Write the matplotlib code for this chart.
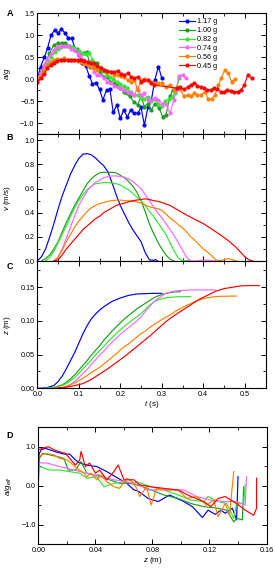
import matplotlib
matplotlib.use('Agg')
import matplotlib.pyplot as plt
from matplotlib.ticker import MultipleLocator

plt.rcParams['font.family'] = ['Liberation Sans', 'DejaVu Sans']
plt.rcParams['mathtext.fontset'] = 'custom'
plt.rcParams['mathtext.rm'] = 'Liberation Sans'
plt.rcParams['mathtext.it'] = 'Liberation Sans:italic'
plt.rcParams['axes.linewidth'] = 0.8

############################  DATA  ############################
labels = ['1.17 g', '1.00 g', '0.82 g', '0.74 g', '0.56 g', '0.45 g']
colors = ['#0000ff', '#1a9e1a', '#33e633', '#ff66ff', '#ff8000', '#ff0000']

# panel A : a/g vs t
ta_117 = [0, .008, .017, .025, .033, .042, .050, .058, .067, .075, .083, .092, .100, .108, .117, .125, .133, .142, .150,
          .158, .167, .175, .183, .192, .200, .208, .217, .225, .233, .242, .250, .258, .267, .275, .283, .292, .300]
a_117 = [0, .29, .50, .72, 1.00, 1.12, 1.05, 1.14, 1.05, .93, .93, .67, .55, .38, .30, .08, -.10, -.08, -.23,
         -.47, -.24, -.23, -.75, -.58, -.89, -.70, -.85, -.70, -.77, -.77, -.64, -1.04, -.62, -.47, -.02, .29, .02]
ta_100 = [0, .010, .019, .029, .040, .051, .059, .067, .077, .086, .095, .103, .113, .119, .128, .137, .144, .152, .160,
          .168, .176, .184, .192, .200, .208, .216, .224, .232, .242, .250, .258, .266, .274, .284, .294, .302, .310,
          .320, .326, .334]
a_100 = [-.02, .17, .33, .59, .78, .82, .82, .82, .76, .74, .68, .55, .59, .63, .29, .33, .36, .17, .06,
         .06, -.05, -.09, -.13, -.20, -.28, -.32, -.39, -.51, -.58, -.39, -.62, -.55, -.70, -.55, -.66, -.85, -.81,
         -.39, -.24, -.23]
ta_082 = [0, .008, .017, .025, .033, .042, .050, .058, .067, .075, .083, .092, .100, .108, .117, .125, .133, .142, .150,
          .158, .167, .175, .183, .192, .200, .208, .217, .225, .233, .242, .250, .258, .267, .275, .283, .292, .300,
          .308, .317, .325, .333, .342]
a_082 = [-.05, .05, .20, .35, .50, .62, .70, .74, .76, .75, .74, .70, .65, .60, .58, .60, .45, .30, .28,
         .20, .10, .05, 0, -.05, -.10, -.15, -.20, -.28, -.35, -.35, -.42, -.45, -.40, -.50, -.45, -.55, -.60,
         -.50, -.45, -.40, -.30, .02]
ta_074 = [0, .008, .016, .024, .032, .040, .048, .056, .064, .073, .081, .089, .097, .103, .113, .121, .129, .136, .144,
          .152, .161, .169, .178, .186, .194, .202, .210, .218, .226, .234, .241, .250, .258, .266, .274, .283, .292,
          .301, .309, .320, .329, .335, .341, .350, .358]
a_074 = [.02, .14, .33, .45, .57, .67, .74, .76, .76, .75, .70, .67, .59, .52, .44, .40, .33, .17, .10,
         .10, .02, -.05, -.09, -.15, -.18, -.20, -.24, -.28, -.32, -.36, -.20, -.36, -.32, -.47, -.47, -.43, -.47,
         -.55, -.55, -.77, -.47, -.24, .08, .10, .02]
ta_056 = [0, .008, .016, .024, .032, .040, .048, .056, .065, .073, .081, .089, .097, .105, .113, .121, .129, .137, .145,
          .153, .161, .169, .178, .186, .194, .202, .210, .218, .226, .234, .242, .250, .258, .266, .274, .283, .292,
          .301, .309, .320, .329, .337, .345, .353, .362, .370, .378, .386, .394, .404, .412, .420, .428, .436, .443,
          .452, .460, .468, .476]
a_056 = [0, .08, .20, .31, .40, .44, .46, .45, .48, .44, .44, .44, .42, .40, .35, .33, .29, .25, .21,
         .25, .21, .17, .17, .10, .10, .08, .06, -.02, -.05, -.02, -.24, -.02, 0, -.02, -.05, -.09, -.08,
         -.09, -.17, -.13, -.24, -.17, -.23, -.39, -.36, -.39, -.32, -.36, -.36, -.28, -.45, -.45, -.36, -.13, .02,
         .21, .14, -.05, 0]
ta_045 = [0, .008, .016, .024, .032, .040, .048, .056, .065, .073, .081, .089, .097, .105, .113, .121, .129, .137, .145,
          .153, .161, .169, .178, .186, .194, .202, .210, .218, .226, .234, .242, .250, .258, .266, .274, .281,
          .337, .345, .353, .362, .370, .378, .386, .394, .402, .410, .418, .426, .434, .442, .450, .458, .466, .475,
          .483, .491, .499, .507, .517]
a_045 = [-.05, .02, .12, .25, .33, .38, .42, .44, .44, .44, .44, .44, .44, .45, .42, .40, .36, .36, .30,
         .25, .21, .20, .17, .17, .20, .12, .10, .14, .06, .02, .06, -.05, -.02, -.02, -.08, -.13,
         -.20, -.18, -.23, -.18, -.13, -.08, -.15, -.18, -.20, -.24, -.24, -.20, -.23, -.28, -.28, -.24, -.26, -.28,
         -.28, -.24, -.13, .10, .02]

# panel B : v (m/s) vs t
tv_117 = [0, .01, .02, .03, .04, .05, .06, .07, .08, .09, .10, .11, .12, .13, .14, .15, .16, .17, .18, .19, .20,
          .21, .22, .23, .24, .25, .26, .27, .28, .285, .29]
v_117 = [0, .035, .10, .20, .31, .43, .54, .63, .72, .79, .85, .885, .89, .88, .855, .82, .79, .74, .65, .55, .46,
         .39, .32, .26, .21, .16, .07, .01, .005, .012, 0]
tv_100 = [.01, .02, .03, .04, .05, .06, .07, .08, .09, .10, .11, .12, .13, .14, .15, .16, .17, .18, .19, .20, .21,
          .22, .23, .24, .25, .26, .27, .28, .29, .30, .31, .32, .33]
v_100 = [0, .02, .05, .10, .16, .24, .32, .39, .46, .52, .58, .64, .68, .71, .73, .735, .735, .735, .73, .71, .69,
         .66, .62, .57, .50, .41, .31, .23, .16, .10, .05, .015, 0]
tv_082 = [.02, .03, .04, .05, .06, .07, .08, .09, .10, .11, .12, .13, .14, .15, .16, .17, .18, .19, .20, .21, .22,
          .23, .24, .25, .26, .27, .28, .29, .30, .31, .32, .33, .34, .35, .36, .37]
v_082 = [0, .03, .08, .15, .22, .29, .37, .44, .50, .55, .59, .62, .64, .645, .65, .65, .645, .64, .63, .61, .59,
         .56, .53, .50, .46, .41, .37, .32, .27, .22, .15, .08, .025, 0, .005, 0]
tv_074 = [.04, .05, .06, .07, .08, .09, .10, .11, .12, .13, .14, .15, .16, .17, .18, .19, .20, .21, .22, .23, .24,
          .25, .26, .27, .28, .29, .30, .31, .32, .33, .34, .35, .36, .37, .38, .39, .41, .42, .43]
v_074 = [0, .03, .10, .19, .28, .37, .46, .52, .58, .62, .65, .67, .69, .70, .705, .705, .70, .695, .68, .66, .63,
         .60, .55, .50, .45, .40, .36, .31, .26, .21, .15, .09, .03, 0, 0, .005, .008, .003, 0]
tv_056 = [.04, .05, .06, .07, .08, .09, .10, .11, .12, .13, .14, .15, .16, .17, .18, .19, .20, .21, .22, .23, .24,
          .25, .26, .27, .28, .29, .30, .31, .32, .33, .34, .35, .36, .37, .38, .39, .40, .41, .42, .43, .44, .45,
          .46, .47, .48]
v_056 = [0, .03, .09, .16, .22, .28, .33, .37, .41, .44, .46, .475, .485, .495, .50, .505, .505, .50, .50, .495, .49,
         .48, .465, .45, .44, .435, .42, .39, .355, .33, .30, .275, .24, .20, .17, .135, .10, .075, .045, .01, 0, .012,
         .02, .01, 0]
tv_045 = [.04, .05, .06, .07, .08, .09, .10, .11, .12, .13, .14, .15, .16, .17, .18, .19, .20, .21, .22, .23, .24,
          .25, .26, .27, .28, .29, .30, .32, .34, .36, .38, .40, .42, .44, .46, .48, .50, .51, .52]
v_045 = [0, .01, .05, .10, .14, .18, .22, .26, .29, .32, .35, .37, .40, .42, .44, .46, .47, .48, .49, .50, .505,
         .51, .515, .51, .50, .495, .485, .46, .42, .38, .345, .31, .265, .22, .17, .11, .035, .01, 0]

# panel C : z (m) vs t
tz_117 = [0, .02, .04, .05, .06, .07, .08, .09, .10, .11, .12, .13, .14, .15, .16, .18, .20, .22, .24, .26, .28, .30]
z_117 = [0, .0005, .004, .010, .018, .029, .041, .053, .067, .081, .093, .103, .110, .116, .121, .129, .134, .138,
         .140, .1405, .141, .141]
tz_100 = [.02, .04, .06, .07, .08, .09, .10, .11, .12, .13, .14, .15, .16, .17, .18, .19, .20, .21, .22, .23, .24,
          .25, .26, .27, .28, .29, .30, .31, .32, .33, .345]
z_100 = [0, .001, .005, .009, .014, .020, .027, .034, .041, .049, .056, .063, .071, .078, .085, .091, .097, .103, .108,
         .113, .118, .122, .126, .130, .134, .137, .139, .141, .142, .143, .1435]
tz_082 = [.02, .04, .06, .07, .08, .09, .10, .11, .12, .13, .14, .15, .16, .17, .18, .19, .20, .21, .22, .23, .24,
          .25, .26, .27, .28, .29, .30, .31, .32, .34, .37]
z_082 = [0, .001, .004, .007, .011, .016, .022, .029, .035, .042, .049, .056, .062, .069, .075, .081, .087, .092, .097,
         .102, .106, .111, .117, .123, .128, .131, .133, .1345, .135, .136, .136]
tz_074 = [.04, .06, .07, .08, .09, .10, .11, .12, .13, .14, .15, .16, .17, .18, .19, .20, .21, .22, .23, .24, .25,
          .26, .27, .28, .29, .30, .31, .32, .34, .37, .43]
z_074 = [0, .001, .003, .006, .010, .016, .022, .028, .035, .042, .049, .055, .062, .068, .074, .080, .085, .090, .095,
         .100, .106, .114, .121, .128, .133, .137, .141, .143, .145, .146, .146]
tz_056 = [.04, .06, .07, .08, .09, .10, .11, .12, .13, .14, .15, .16, .17, .18, .19, .20, .21, .22, .23, .24, .25,
          .26, .27, .28, .29, .30, .32, .34, .36, .38, .40, .42, .44, .48]
z_056 = [0, .001, .003, .005, .008, .011, .015, .019, .023, .027, .031, .036, .041, .046, .051, .057, .062, .066, .071,
         .076, .081, .085, .090, .094, .098, .102, .109, .117, .123, .129, .133, .1355, .1365, .137]
tz_045 = [.04, .07, .09, .11, .13, .15, .17, .19, .21, .23, .25, .27, .29, .31, .33, .35, .37, .39, .41, .43, .45,
          .47, .49, .51, .535]
z_045 = [0, .0015, .004, .007, .013, .021, .029, .038, .047, .057, .067, .077, .088, .099, .108, .116, .124, .132, .138,
         .144, .148, .150, .152, .1525, .1525]

# panel D : a/g_eff vs z
zd_117 = [0, .0007, .002, .005, .008, .013, .018, .022, .026, .029, .034, .041, .048, .055, .062, .067, .070, .077,
          .084, .092, .102, .108, .115, .119, .124, .128, .131, .136, .139, .140]
ad_117 = [0, .83, .92, .96, .92, .86, .81, .81, .66, .58, .53, .49, .36, .21, .06, -.11, -.14, -.33,
          -.41, -.24, -.41, -.54, -.82, -.63, -.74, -.63, -.71, -.58, -.88, .23]
zd_100 = [0, .003, .008, .013, .018, .021, .026, .030, .034, .039, .043, .050, .057, .064, .071, .079, .088, .098,
          .107, .116, .126, .132, .137, .139, .143, .144]
ad_100 = [.65, .83, .79, .75, .70, .40, .40, .62, .32, .27, .27, .15, .06, .06, 0, -.11, -.24, -.33,
          -.46, -.54, -.58, -.63, -.93, -.84, -.88, -.03]
zd_082 = [0, .008, .015, .022, .029, .034, .041, .046, .053, .060, .067, .069, .079, .088, .098, .107, .116, .119,
          .126, .132, .137, .139, .144, .145]
ad_082 = [.5, .40, .40, .36, .32, .19, .23, -.03, .06, .10, .06, .10, -.03, -.11, -.24, -.37, -.41, -.28,
          -.41, -.46, -.84, -.46, -.46, .02]
zd_074 = [0, .006, .015, .025, .034, .043, .053, .062, .071, .076, .088, .102, .111, .121, .130, .139, .145, .146]
ad_074 = [.59, .58, .49, .40, .32, .23, .15, .10, .02, -.11, -.11, -.11, -.28, -.37, -.41, -.41, -.50, .23]
zd_056 = [0, .005, .011, .015, .020, .023, .027, .032, .034, .037, .041, .044, .048, .053, .057, .062, .066, .069,
          .071, .076, .079, .083, .088, .098, .104, .111, .118, .123, .126, .131, .134, .137]
ad_056 = [.75, .83, .79, .70, .66, .58, .45, .32, .23, .32, .15, .27, .10, -.03, -.07, .19, .10, -.07,
          -.28, -.03, -.50, -.07, -.11, -.11, -.33, -.28, -.50, -.37, -.80, -.46, -.76, .36]
zd_045 = [0, .003, .007, .011, .014, .019, .022, .026, .029, .030, .033, .036, .040, .043, .048, .053, .056, .060,
          .064, .067, .071, .079, .088, .098, .107, .116, .121, .126, .131, .135, .139, .145, .151, .153, .153]
ad_045 = [.92, .96, 1.0, .92, .88, .83, .70, .53, .66, .88, .49, .58, .32, .40, .15, .36, .53, .15,
          .15, .15, .02, -.03, -.07, -.11, -.28, -.41, -.54, -.33, -.28, -.37, -.46, -.63, -.76, -.58, .19]

ta_all = [ta_117, ta_100, ta_082, ta_074, ta_056, ta_045]
a_all = [a_117, a_100, a_082, a_074, a_056, a_045]
tv_all = [tv_117, tv_100, tv_082, tv_074, tv_056, tv_045]
v_all = [v_117, v_100, v_082, v_074, v_056, v_045]
tz_all = [tz_117, tz_100, tz_082, tz_074, tz_056, tz_045]
z_all = [z_117, z_100, z_082, z_074, z_056, z_045]
zd_all = [zd_117, zd_100, zd_082, zd_074, zd_056, zd_045]
ad_all = [ad_117, ad_100, ad_082, ad_074, ad_056, ad_045]

############################  FIGURE  ############################
fig = plt.figure(figsize=(2.75, 5.71), dpi=100)
L, W = 0.1356, 0.830
axA = fig.add_axes([L, 0.7648, W, 0.2119])
axB = fig.add_axes([L, 0.5429, W, 0.2219])
axC = fig.add_axes([L, 0.3200, W, 0.2229])
axD = fig.add_axes([0.1393, 0.0473, W, 0.2044])

fs_tick = 5.2
fs_lab = 5.8
lw = 0.85

def style(ax):
    ax.tick_params(which='both', direction='in', top=True, right=True, labelsize=fs_tick, pad=2)
    ax.tick_params(which='major', length=3.5, width=0.7)
    ax.tick_params(which='minor', length=2, width=0.6)

# A
for i in range(6):
    axA.plot(ta_all[i], a_all[i], '-o', color=colors[i], lw=lw, ms=2.0, label=labels[i])
axA.set_xlim(0, 0.55)
axA.set_ylim(-1.25, 1.5)
axA.yaxis.set_major_locator(MultipleLocator(0.5))
axA.yaxis.set_minor_locator(MultipleLocator(0.25))
axA.xaxis.set_major_locator(MultipleLocator(0.1))
axA.xaxis.set_minor_locator(MultipleLocator(0.05))
axA.set_xticklabels([])
axA.set_ylabel(r'$a/g$', fontsize=fs_lab)
leg = axA.legend(loc='upper left', bbox_to_anchor=(0.6, 1.0), frameon=False, fontsize=fs_tick,
                 handlelength=2.2, handletextpad=0.3, labelspacing=0.25, borderpad=0.2, numpoints=1)

# B
for i in range(6):
    axB.plot(tv_all[i], v_all[i], '-', color=colors[i], lw=lw)
axB.set_xlim(0, 0.55)
axB.set_ylim(0, 1.05)
axB.yaxis.set_major_locator(MultipleLocator(0.2))
axB.yaxis.set_minor_locator(MultipleLocator(0.1))
axB.xaxis.set_major_locator(MultipleLocator(0.1))
axB.xaxis.set_minor_locator(MultipleLocator(0.05))
axB.set_xticklabels([])
axB.set_ylabel(r'$v$ (m/s)', fontsize=fs_lab)

# C
for i in range(6):
    axC.plot(tz_all[i], z_all[i], '-', color=colors[i], lw=lw)
axC.set_xlim(0, 0.55)
axC.set_ylim(0, 0.189)
axC.yaxis.set_major_locator(MultipleLocator(0.05))
axC.yaxis.set_minor_locator(MultipleLocator(0.025))
axC.xaxis.set_major_locator(MultipleLocator(0.1))
axC.xaxis.set_minor_locator(MultipleLocator(0.05))
axC.set_yticks([0, 0.05, 0.10, 0.15])
axC.set_yticklabels(['0.00', '0.05', '0.10', '0.15'])
axC.set_xlabel(r'$t$ (s)', fontsize=fs_lab, labelpad=1)
axC.set_ylabel(r'$z$ (m)', fontsize=fs_lab)

# D
for i in range(6):
    axD.plot(zd_all[i], ad_all[i], '-', color=colors[i], lw=lw)
axD.set_xlim(0, 0.16)
axD.set_ylim(-1.5, 1.5)
axD.xaxis.set_major_locator(MultipleLocator(0.04))
axD.xaxis.set_minor_locator(MultipleLocator(0.02))
axD.yaxis.set_major_locator(MultipleLocator(1.0))
axD.yaxis.set_minor_locator(MultipleLocator(0.5))
axD.set_xticks([0, 0.04, 0.08, 0.12, 0.16])
axD.set_xticklabels(['0.00', '0.04', '0.08', '0.12', '0.16'])
axD.set_yticks([-1, 0, 1])
axD.set_yticklabels(['\u22121.0', '0.0', '1.0'])
axD.set_xlabel(r'$z$ (m)', fontsize=fs_lab, labelpad=1)
axD.set_ylabel(r'$a/g_{eff}$', fontsize=fs_lab)

for ax in (axA, axB, axC, axD):
    style(ax)
    ax.yaxis.set_label_coords(-0.105, 0.5)

# panel letters
for letter, y in zip('ABCD', [0.977, 0.759, 0.533, 0.238]):
    fig.text(0.036, y, letter, fontsize=6.5, fontweight='bold', ha='center', va='center')

fig.savefig('out.png', dpi=100)
